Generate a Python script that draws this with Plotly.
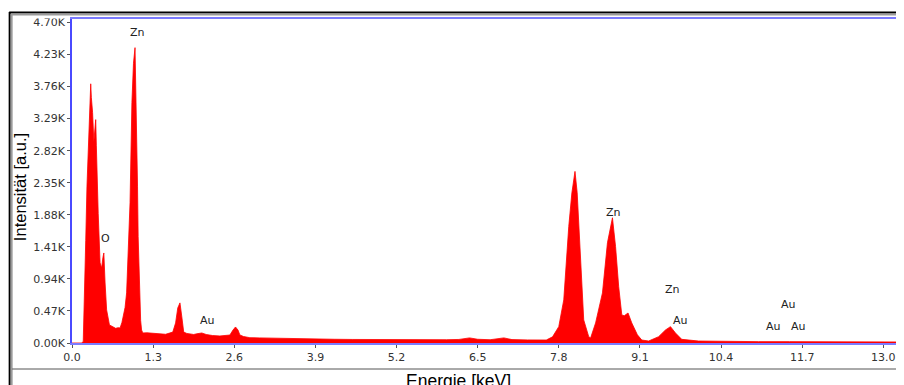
import plotly.graph_objects as go

# Spectrum (energy in keV, counts)
energy = [0.00, 0.15, 0.18, 0.20, 0.22, 0.24, 0.26, 0.28, 0.30, 0.31, 0.33, 0.35, 0.365, 0.38, 0.39,
          0.40, 0.42, 0.45, 0.475, 0.495, 0.51, 0.53, 0.555, 0.60, 0.63, 0.66, 0.70, 0.74, 0.77, 0.80,
          0.82, 0.85, 0.875, 0.90, 0.93, 0.96, 0.985, 1.01, 1.02, 1.035, 1.05, 1.06, 1.075, 1.09, 1.10,
          1.115, 1.135, 1.20, 1.30, 1.40, 1.50, 1.615, 1.66, 1.695, 1.73, 1.76, 1.79, 1.84, 1.89, 1.95,
          2.00, 2.08, 2.15, 2.25, 2.37, 2.45, 2.53, 2.58, 2.62, 2.66, 2.69, 2.75, 2.85, 3.00, 3.20,
          3.40, 3.65, 3.90, 4.20, 4.50, 4.80, 5.10, 5.40, 5.70, 6.00, 6.20, 6.37, 6.50, 6.70, 6.92,
          7.05, 7.30, 7.50, 7.60, 7.70, 7.80, 7.88, 7.96, 8.01, 8.06, 8.095, 8.15, 8.20, 8.28, 8.31,
          8.39, 8.50, 8.58, 8.66, 8.71, 8.76, 8.81, 8.85, 8.91, 8.97, 9.06, 9.13, 9.24, 9.40, 9.51,
          9.59, 9.67, 9.77, 10.04, 10.50, 11.00, 11.50, 12.00, 12.50, 13.00, 13.30]
counts = [0, 0, 20, 600, 1500, 2300, 2900, 3500, 3800, 3600, 3380, 2950, 3150, 3275, 2900,
          2540, 1900, 1175, 1100, 1250, 1320, 880, 485, 265, 250, 235, 215, 225, 220, 300,
          380, 520, 735, 1250, 2056, 3525, 4100, 4330, 3900, 3275, 2300, 1560, 1000, 590, 330,
          190, 147, 150, 140, 135, 128, 160, 294, 514, 588, 382, 160, 140, 132, 125,
          135, 147, 125, 110, 103, 105, 117, 190, 235, 190, 118, 95, 78, 75, 70,
          68, 59, 57, 55, 52, 50, 48, 46, 45, 48, 52, 75, 55, 48, 75,
          50, 45, 42, 44, 90, 240, 632, 1708, 2200, 2516, 2203, 1219, 338, 93, 73,
          294, 734, 1469, 1836, 1415, 827, 411, 400, 440, 294, 120, 44, 29, 93, 191,
          240, 147, 54, 29, 22, 20, 20, 18, 17, 16, 15]

x_ticks = [0.0, 1.3, 2.6, 3.9, 5.2, 6.5, 7.8, 9.1, 10.4, 11.7, 13.0]
x_tick_labels = ["0.0", "1.3", "2.6", "3.9", "5.2", "6.5", "7.8", "9.1", "10.4", "11.7", "13.0"]
y_ticks = [0, 470, 940, 1410, 1880, 2350, 2820, 3290, 3760, 4230, 4700]
y_tick_labels = ["0.00K", "0.47K", "0.94K", "1.41K", "1.88K", "2.35K", "2.82K", "3.29K", "3.76K", "4.23K", "4.70K"]

# Element labels: text, energy, counts position
label_text = ["Zn", "O", "Au", "Zn", "Zn", "Au", "Au", "Au", "Au"]
label_x = [1.055, 0.54, 2.17, 8.67, 9.63, 9.75, 11.48, 11.24, 11.64]
label_y = [4553, 1527, 323, 1909, 778, 323, 558, 235, 235]

fig = go.Figure()
fig.add_trace(go.Scatter(
    x=energy, y=counts, mode="lines", fill="tozeroy",
    line=dict(color="#ff0000", width=0.8), fillcolor="#ff0000",
    hoverinfo="skip", showlegend=False,
))

for t, xx, yy in zip(label_text, label_x, label_y):
    fig.add_annotation(x=xx, y=yy, text=t, showarrow=False, xref="x", yref="y",
                       font=dict(family="DejaVu Sans", size=11, color="#222222"))

# page pixel -> paper coords (plot area spans page x 72..904, y 19..343)
def px_x(p):
    return (p - 72) / 832.0

def px_y(p):
    return (343 - p) / 324.0

fig.add_annotation(x=px_x(20), y=px_y(187), xref="paper", yref="paper", text="Intensität [a.u.]",
                   textangle=-90, showarrow=False, xanchor="center", yanchor="middle",
                   font=dict(family="Liberation Sans", size=16.5, color="#000000"))
fig.add_annotation(x=px_x(459), y=px_y(369), xref="paper", yref="paper", text="Energie [keV]",
                   showarrow=False, xanchor="center", yanchor="top",
                   font=dict(family="Liberation Sans", size=17.5, color="#000000"))

shapes = [
    dict(type="rect", xref="paper", yref="paper", x0=px_x(12), x1=px_x(70), y0=px_y(0), y1=px_y(18.5),
         fillcolor="white", line=dict(width=0)),
    dict(type="line", xref="paper", yref="paper", x0=px_x(9), x1=1.02, y0=px_y(12.5), y1=px_y(12.5),
         line=dict(color="#000000", width=2)),
    dict(type="line", xref="paper", yref="paper", x0=px_x(11), x1=1.02, y0=px_y(14.5), y1=px_y(14.5),
         line=dict(color="#9a9a9a", width=2)),
    dict(type="line", xref="paper", yref="paper", x0=px_x(9.5), x1=px_x(9.5), y0=px_y(12), y1=px_y(390),
         line=dict(color="#000000", width=2)),
    dict(type="line", xref="paper", yref="paper", x0=px_x(11.5), x1=px_x(11.5), y0=px_y(14), y1=px_y(390),
         line=dict(color="#9a9a9a", width=2)),
    dict(type="line", xref="paper", yref="paper", x0=px_x(12), x1=1.02, y0=px_y(369), y1=px_y(369),
         line=dict(color="#555555", width=1)),
]

# The page body has an 8px margin, so the figure is 8px smaller and offset accordingly.
fig.update_layout(
    width=896, height=377,
    margin=dict(l=64, r=0, t=11, b=42),
    paper_bgcolor="white", plot_bgcolor="white",
    shapes=shapes,
    xaxis=dict(range=[0, 13.30], tickvals=x_ticks, ticktext=x_tick_labels, showgrid=False, zeroline=False,
               showline=True, linecolor="#7b7bff", linewidth=2, mirror=True,
               ticks="outside", ticklen=3, tickcolor="#555555",
               tickfont=dict(family="DejaVu Sans", size=11, color="#333333")),
    yaxis=dict(range=[0, 4750], tickvals=y_ticks, ticktext=y_tick_labels, showgrid=False, zeroline=False,
               showline=True, linecolor="#4a4aff", linewidth=1.5, mirror=True,
               ticks="outside", ticklen=3, tickcolor="#555555",
               tickfont=dict(family="DejaVu Sans", size=11, color="#333333")),
)

fig.write_html("out.html")
